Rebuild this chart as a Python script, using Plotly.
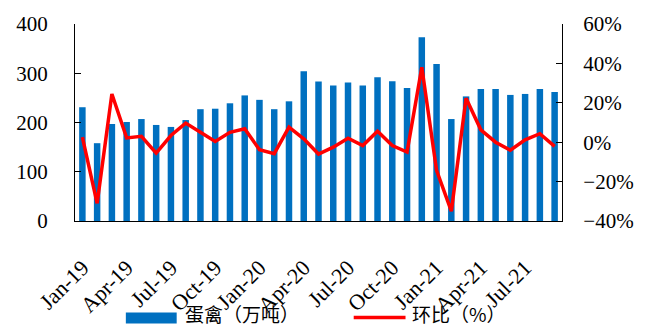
import plotly.graph_objects as go

# Monthly categories, Jan-2019 .. Sep-2021
months = [f"{m}-{y}" for y in ("19", "20", "21")
          for m in ("Jan", "Feb", "Mar", "Apr", "May", "Jun",
                    "Jul", "Aug", "Sep", "Oct", "Nov", "Dec")][:33]

# Poultry (egg-laying hens) volume, 10k tonnes
volume = [231, 158, 197, 201, 207, 195, 191, 205, 227, 228, 239, 255,
          246, 227, 243, 304, 283, 275, 281, 275, 292, 284, 270, 373,
          319, 207, 253, 268, 268, 256, 258, 268, 262]

# Month-on-month change, %
mom = [2.6, -31.0, 24.5, 2.2, 3.0, -5.5, 3.4, 9.7, 5.0, 0.4, 5.0, 6.8,
       -3.8, -5.8, 7.6, 1.7, -6.0, -2.5, 2.0, -1.7, 5.6, -1.7, -5.0, 38.0,
       -14.3, -35.0, 22.3, 6.3, 0.0, -4.1, 1.2, 4.3, -2.1]

tick_labels = months[::3]

BLUE = "#0070C0"
RED = "#FF0000"
SERIF = "Liberation Serif, Times New Roman, serif"
CJK = "Noto Sans CJK SC"

fig = go.Figure()
fig.add_trace(go.Bar(x=months, y=volume, marker=dict(color=BLUE, line=dict(width=0)),
                     name="蛋禽（万吨）", yaxis="y"))
fig.add_trace(go.Scatter(x=months, y=mom, mode="lines", line=dict(color=RED, width=3.5),
                         name="环比（%）", yaxis="y2"))

n = len(months)
boundary_ticks = [i - 0.5 for i in range(0, n, 3)]

fig.update_layout(
    width=646, height=329,
    margin=dict(l=75, r=72, t=24, b=107),
    plot_bgcolor="white", paper_bgcolor="white",
    showlegend=False,
    bargap=0.56,
    xaxis=dict(type="category", range=[-0.5, n - 0.5], tickmode="array",
               tickvals=tick_labels, ticktext=tick_labels, tickangle=-45,
               ticks="", showline=True, linecolor="black", linewidth=1.3,
               showgrid=False, tickfont=dict(family=SERIF, size=22, color="black"),
               ticklabelstandoff=24),
    xaxis2=dict(overlaying="x", anchor="y", side="bottom", range=[-0.5, n - 0.5],
                tickmode="array", tickvals=boundary_ticks, ticks="inside", ticklen=7,
                tickcolor="black", showticklabels=False, showline=False,
                showgrid=False, zeroline=False),
    yaxis=dict(range=[0, 400], dtick=100, ticks="inside", ticklen=6, tickcolor="black",
               showline=True, linecolor="black", linewidth=1.3, showgrid=False,
               zeroline=False, tickfont=dict(family=SERIF, size=21, color="black"),
               ticklabelstandoff=22),
    yaxis2=dict(range=[-40, 60], dtick=20, ticksuffix="%", overlaying="y", side="right",
                ticks="inside", ticklen=6, tickcolor="black", showline=True,
                linecolor="black", linewidth=1.3, showgrid=False, zeroline=False,
                tickfont=dict(family=SERIF, size=21, color="black"),
                ticklabelstandoff=16),
)

# Legend keys drawn below the plot
fig.add_shape(type="rect", xref="paper", yref="paper", x0=0.1044, x1=0.2088,
              y0=-0.5202, y1=-0.4646, fillcolor=BLUE, line=dict(width=0))
fig.add_annotation(xref="paper", yref="paper", x=0.2209, y=-0.47, xanchor="left",
                   yanchor="middle", showarrow=False, text="蛋禽（万吨）",
                   font=dict(family=CJK, size=19, color="black"))
fig.add_shape(type="line", xref="paper", yref="paper", x0=0.5723, x1=0.6787,
              y0=-0.4899, y1=-0.4899, line=dict(color=RED, width=3.5))
fig.add_annotation(xref="paper", yref="paper", x=0.6888, y=-0.47, xanchor="left",
                   yanchor="middle", showarrow=False, text="环比（%）",
                   font=dict(family=CJK, size=19, color="black"))

fig.write_html("out.html")
